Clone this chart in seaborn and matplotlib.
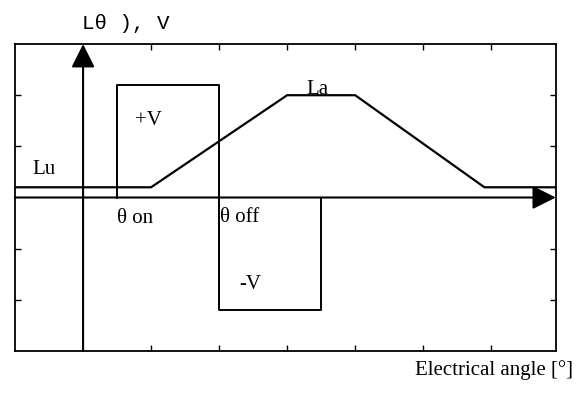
import matplotlib
matplotlib.use("Agg")
import matplotlib.pyplot as plt
import pandas as pd
import seaborn as sns

# inductance profile L(theta)
angle_L = [-1.0, 1.0, 3.0, 4.0, 5.9, 6.95]
induct_L = [0.2, 0.2, 2.0, 2.0, 0.2, 0.2]

# phase voltage pulse (+V between theta_on and theta_off, then -V)
angle_V = [0.5, 0.5, 2.0, 2.0, 3.5, 3.5]
volt_V = [0.0, 2.2, 2.2, -2.2, -2.2, 0.0]

x_ticks = [1, 2, 3, 4, 5, 6]
y_ticks = [-2, -1, 1, 2]

sns.set_theme(style="ticks", rc={
    "xtick.direction": "in", "ytick.direction": "in",
    "xtick.top": True, "ytick.right": True,
    "axes.edgecolor": "black", "axes.linewidth": 1.3,
    "text.color": "black",
})
plt.rcParams["font.family"] = ["Liberation Serif", "DejaVu Serif"]

df_L = pd.DataFrame({"angle": angle_L, "L": induct_L})
df_V = pd.DataFrame({"angle": angle_V, "V": volt_V})

fig = plt.figure(figsize=(5.79, 3.97), dpi=100)
ax = fig.add_axes([0.026, 0.116, 0.934, 0.773])

sns.lineplot(data=df_L, x="angle", y="L", sort=False, estimator=None,
             color="black", lw=1.6, ax=ax, zorder=3)
sns.lineplot(data=df_V, x="angle", y="V", sort=False, estimator=None,
             color="black", lw=1.4, ax=ax, zorder=3)

ax.set_xlim(-1.0, 6.95)
ax.set_ylim(-3, 3)
ax.set_xticks(x_ticks)
ax.set_yticks(y_ticks)
ax.tick_params(length=4, width=1, labelbottom=False, labelleft=False, colors="black")
ax.set_xlabel("")
ax.set_ylabel("")

# axes with arrow heads
arrow_kw = dict(arrowstyle="-|>,head_length=1.0,head_width=0.5", mutation_scale=14.4,
                lw=1.5, color="black", shrinkA=0, shrinkB=0)
ax.annotate("", xy=(0, 3), xytext=(0, -3), arrowprops=arrow_kw, zorder=2)
ax.annotate("", xy=(6.95, 0), xytext=(-1.0, 0), arrowprops=arrow_kw, zorder=2)

fs = 15
ax.text(-0.74, 0.55, "Lu", fontsize=fs, ha="left", va="center")
ax.text(0.76, 1.5, "+V", fontsize=fs, ha="left", va="center")
ax.text(0.5, -0.42, "θ on", fontsize=fs, ha="left", va="center")
ax.text(2.02, -0.4, "θ off", fontsize=fs, ha="left", va="center")
ax.text(2.3, -1.7, "-V", fontsize=fs, ha="left", va="center")
ax.text(3.29, 2.03, "La", fontsize=fs, ha="left", va="baseline")

fig.text(0.1416, 0.942, "Lθ ), V", fontsize=15, ha="left", va="center",
         family=["Liberation Mono", "DejaVu Sans Mono"])
fig.text(0.99, 0.068, "Electrical angle [°]", fontsize=fs, ha="right", va="center")

fig.savefig("out.png", dpi=100)
